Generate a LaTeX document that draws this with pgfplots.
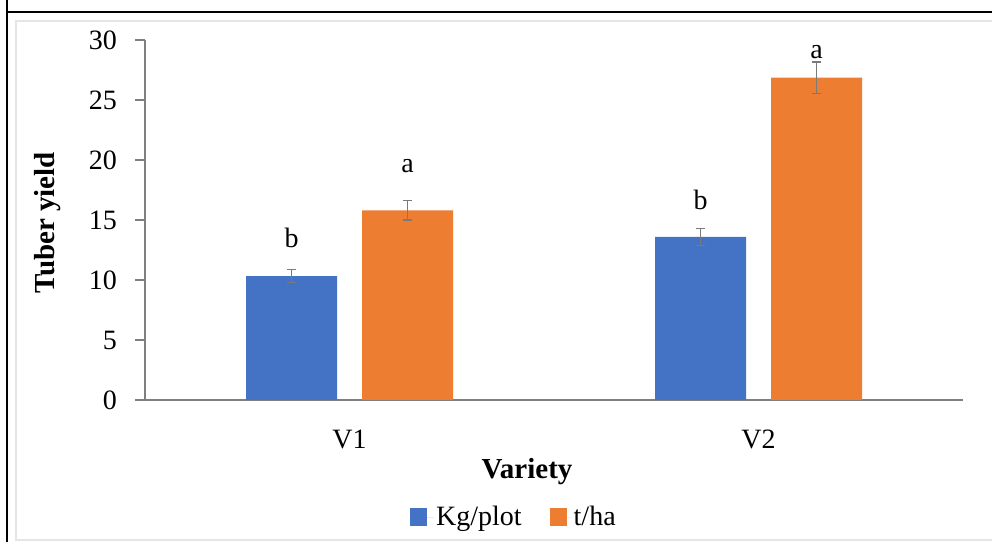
\documentclass[border=0pt]{standalone}
\usepackage{fontspec}
\setmainfont{Liberation Serif}
\usepackage{pgfplots}
\pgfplotsset{compat=1.18}
\definecolor{cblue}{HTML}{4472C4}
\definecolor{corange}{HTML}{ED7D31}
\definecolor{axgray}{HTML}{7F7F7F}
\definecolor{errgray}{HTML}{7A7A7A}
\begin{document}
\begin{tikzpicture}
\useasboundingbox (0,0) rectangle (992bp,542bp);
\fill[white] (0,0) rectangle (992bp,542bp);
% frame
\draw[black, line width=1.6bp] (7bp,542bp) -- (7bp,530bp) -- (992bp,530bp);
\draw[black, line width=1.6bp] (7bp,530bp) -- (7bp,0bp);
\draw[gray!20, line width=2bp] (992bp,521bp) -- (16bp,521bp) -- (16bp,2bp) -- (992bp,2bp);
\begin{axis}[
  at={(145bp,142bp)}, anchor=south west,
  scale only axis, width=818bp, height=360bp,
  xmin=-0.5, xmax=1.5, ymin=0, ymax=30,
  xtick={0,1}, xticklabels={V1,V2},
  ytick={0,5,...,30},
  axis x line*=bottom, axis y line*=left,
  axis line style={axgray, line width=1.4bp},
  y tick style={axgray, line width=1.4bp},
  x tick style={draw=none},
  tick align=outside, major tick length=10bp,
  ticklabel style={font=\fontsize{28bp}{32bp}\selectfont},
  /pgf/number format/assume math mode=true,
  yticklabel style={anchor=east, inner sep=0pt, xshift=-18bp},
  xticklabel style={anchor=base, inner sep=0pt, yshift=-38bp},
  xlabel={\textbf{Variety}},
  xlabel style={font=\fontsize{29bp}{32bp}\selectfont, at={(axis description cs:0.467,-0.2167)}, anchor=base},
  ylabel={\textbf{Tuber yield}},
  ylabel style={font=\fontsize{29bp}{32bp}\selectfont, at={(axis description cs:-0.1186,0.492)}, anchor=center},
  ybar, bar width=91bp,
  legend columns=2,
  legend style={draw=none, fill=none, at={(axis description cs:0.451,-0.325)}, anchor=center,
    font=\fontsize{28bp}{32bp}\selectfont,
    /tikz/every even column/.append style={column sep=26bp}},
  error bars/y dir=both, error bars/y explicit,
  error bars/error bar style={errgray, line width=1.2bp},
  error bars/error mark options={errgray, line width=1.2bp, mark size=4.5bp, rotate=90},
]
\addplot[fill=cblue, draw=none, bar shift=-58bp,
  legend image code/.code={\fill[cblue] (0bp,-8.5bp) rectangle (17bp,8.5bp); \path (0bp,0bp) -- (24bp,0bp);}]
  coordinates {(0,10.33) +- (0,0.55) (1,13.6) +- (0,0.7)};
\addlegendentry{Kg/plot}
\addplot[fill=corange, draw=none, bar shift=58bp,
  legend image code/.code={\fill[corange] (0bp,-8.5bp) rectangle (17bp,8.5bp); \path (0bp,0bp) -- (22bp,0bp);}]
  coordinates {(0,15.8) +- (0,0.8) (1,26.86) +- (0,1.3)};
\addlegendentry{t/ha}
\begin{scope}[font=\fontsize{28bp}{32bp}\selectfont]
\node at (axis cs:0,13.5) [xshift=-58bp] {b};
\node at (axis cs:0,19.5) [xshift=58bp] {a};
\node at (axis cs:1,16.7) [xshift=-58bp] {b};
\node at (axis cs:1,29.0) [xshift=58bp] {a};
\end{scope}
\end{axis}
\end{tikzpicture}
\end{document}
